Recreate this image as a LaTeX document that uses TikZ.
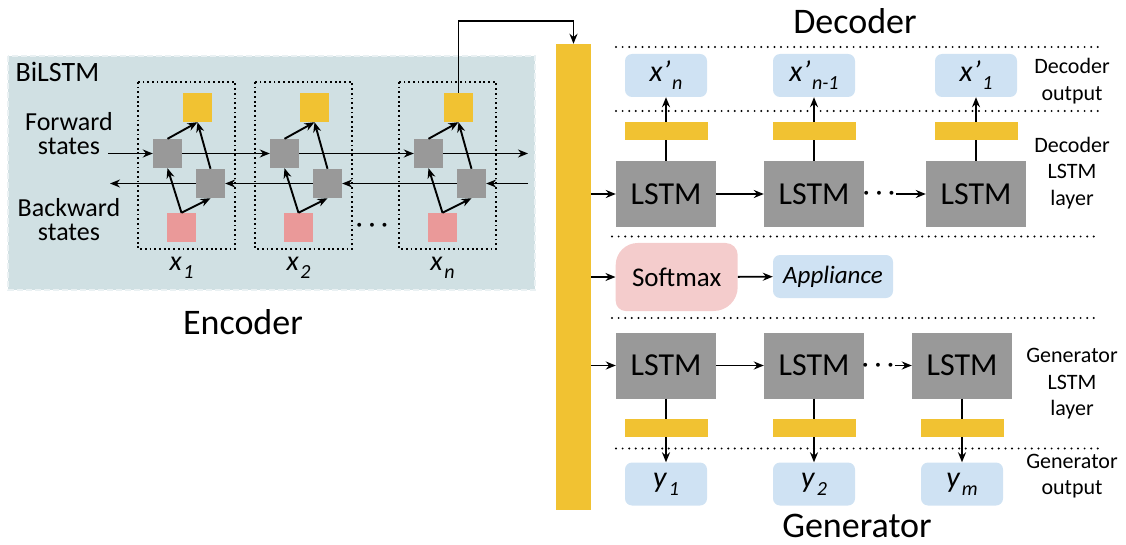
\documentclass[tikz,border=0pt]{standalone}
\usepackage{fontspec}
\setmainfont{Carlito}
\usetikzlibrary{arrows.meta, positioning}

\definecolor{ayellow}{HTML}{F1C232}
\definecolor{lstmgray}{HTML}{999999}
\definecolor{pinkin}{HTML}{EA9999}
\definecolor{softpink}{HTML}{F4CCCC}
\definecolor{outblue}{HTML}{CFE2F3}
\definecolor{bgc}{HTML}{D0E0E3}

\newcommand{\lsub}[3]{\textit{#1}\hspace{1.5pt}\raisebox{-8pt}{\fontsize{#3}{#3}\selectfont\textit{#2}}}

\tikzset{
  sq/.style={minimum size=29pt, inner sep=0pt},
  cellbox/.style={line width=1.8pt, dash pattern=on 1.8pt off 2.9pt},
  sepline/.style={line width=2.2pt, line cap=round, dash pattern=on 0pt off 6.6pt},
  arr/.style={line width=1.9pt, -{Stealth[length=10pt,width=8pt]}},
  lstm/.style={fill=lstmgray, minimum width=100pt, minimum height=66pt, inner sep=0pt, font=\fontsize{32}{32}\selectfont},
  outbox/.style={fill=outblue, rounded corners=7pt, minimum width=82pt, minimum height=43pt, inner sep=0pt, font=\fontsize{30}{30}\selectfont},
  ybar/.style={fill=ayellow, minimum width=83pt, minimum height=18pt, inner sep=0pt},
  sidelabel/.style={align=center, font=\fontsize{22}{26.5}\selectfont},
  title/.style={inner sep=0pt, font=\fontsize{36}{36}\selectfont},
  dotsnode/.style={inner sep=0pt, font=\fontsize{38}{38}\selectfont\boldmath},
}

\begin{document}
\begin{tikzpicture}[x=1pt, y=-1pt]
% Codificador BiLSTM, decodificador y generador
\useasboundingbox (0,0) rectangle (1126,545);

\fill[bgc] (8,56) rectangle (535,290);
\draw[white!55!bgc, line width=1.2pt, dash pattern=on 6pt off 3pt] (8,56) rectangle (535,290);
\node[anchor=west, font=\fontsize{28}{28}\selectfont] (bilstm) at (12,72) {BiLSTM};
\node[align=center, font=\fontsize{26}{24}\selectfont] (fwlab) at (69,134) {Forward\\states};
\node[align=center, font=\fontsize{26}{24}\selectfont] (bwlab) at (69,220) {Backward\\states};

\foreach \i/\L/\s in {1/138/1, 2/255/2, 3/399/n} {
  \draw[cellbox] (\L,82) rectangle (\L+97,249);
  \node[sq, fill=ayellow] (yel\i) at (\L+59.5,107.5) {};
  \node[sq, fill=lstmgray] (fw\i) at (\L+29.5,153.5) {};
  \node[sq, fill=lstmgray] (bw\i) at (\L+72.5,183.5) {};
  \node[sq, fill=pinkin] (pk\i) at (\L+43.5,227.5) {};
  \node[font=\fontsize{28}{28}\selectfont] (xin\i) at (\L+43.5,268) {\lsub{x}{\s}{20}};
  \draw[arr] (pk\i.north) -- (fw\i.south);
  \draw[arr] (pk\i.north) -- (bw\i.south);
  \draw[arr] (fw\i.north) -- (yel\i.south);
  \draw[arr] (bw\i.north) -- (yel\i.south);
}
\node[dotsnode] (ldots) at (372,226) {$\cdots$};

\coordinate (fin) at (108,153.5);
\coordinate (fout) at (528,153.5);
\coordinate (bin) at (528,183.5);
\coordinate (bout) at (110,183.5);
\draw[arr] (fin) -- (fw1);
\draw[arr] (fw1) -- (fw2);
\draw[arr] (fw2) -- (fw3);
\draw[arr] (fw3) -- (fout);
\draw[arr] (bin) -- (bw3);
\draw[arr] (bw3) -- (bw2);
\draw[arr] (bw2) -- (bw1);
\draw[arr] (bw1) -- (bout);

\node[title] (enc) at (243,322) {Encoder};

% barra de contexto
\node[fill=ayellow, minimum width=35pt, minimum height=466pt, inner sep=0pt] (bar) at (573.5,277) {};
\coordinate (ctop) at (573.5,21);
\draw[arr] (yel3.north) |- (ctop) -- (bar.north);

\node[title] (dec) at (855,21) {Decoder};
\node[title] (gen) at (857,526) {Generator};

\draw[sepline] (616,47) -- (1100,47);
\draw[sepline] (616,111) -- (1100,111);
\draw[sepline] (612,236.5) -- (1096,236.5);
\draw[sepline] (612,318) -- (1096,318);
\draw[sepline] (616,448.5) -- (1098,448.5);

\foreach \i/\xx/\s in {1/666/n, 2/814/n-1, 3/976/1} {
  \node[outbox] (dout\i) at (\xx,75.5) {\lsub{x’}{\s}{20}};
  \node[ybar] (dbar\i) at (\xx,131) {};
  \node[lstm] (dl\i) at (\xx,194) {LSTM};
  \draw[line width=1.9pt] (dl\i.north) -- (dbar\i.south);
  \draw[arr] (dbar\i.north) -- (dout\i.south);
}
\node[dotsnode] (ddots) at (879,194) {$\cdots$};
\draw[arr] (bar.east |- dl1.west) -- (dl1.west);
\draw[arr] (dl1) -- (dl2);
\draw[arr] (ddots) -- (dl3);

\fill[softpink] (615.7,277) [rounded corners=22pt] -- (615.7,243) [rounded corners=12pt] -- (737.7,243) [rounded corners=24pt] -- (737.7,311) [rounded corners=10pt] -- (615.7,311) [sharp corners] -- cycle;
\node[minimum width=122pt, minimum height=68pt, inner sep=0pt, font=\fontsize{27}{27}\selectfont] (soft) at (676.7,277) {Softmax};
\node[outbox, minimum width=120pt, font=\fontsize{25}{25}\selectfont\itshape] (app) at (833,276.5) {Appliance};
\draw[arr] (bar.east |- soft.west) -- (soft.west);
\draw[arr] (soft) -- (app);

\foreach \i/\xx/\s in {1/666/1, 2/814/2, 3/962/m} {
  \node[lstm] (gl\i) at (\xx,365.5) {LSTM};
  \node[ybar] (gbar\i) at (\xx,428) {};
  \node[outbox] (gy\i) at (\xx,484) {\lsub{y}{\s}{20}};
  \draw[line width=1.9pt] (gl\i.south) -- (gbar\i.north);
  \draw[arr] (gbar\i.south) -- (gy\i.north);
}
\node[dotsnode] (gdots) at (878,365.5) {$\cdots$};
\draw[arr] (bar.east |- gl1.west) -- (gl1.west);
\draw[arr] (gl1) -- (gl2);
\draw[arr] (gdots) -- (gl3);

\node[sidelabel] (doutlab) at (1072,81) {Decoder\\output};
\node[sidelabel] (dlaylab) at (1072,173) {Decoder\\LSTM\\layer};
\node[sidelabel] (glaylab) at (1072,384) {Generator\\LSTM\\layer};
\node[sidelabel] (goutlab) at (1072,476) {Generator\\output};
\end{tikzpicture}
\end{document}
